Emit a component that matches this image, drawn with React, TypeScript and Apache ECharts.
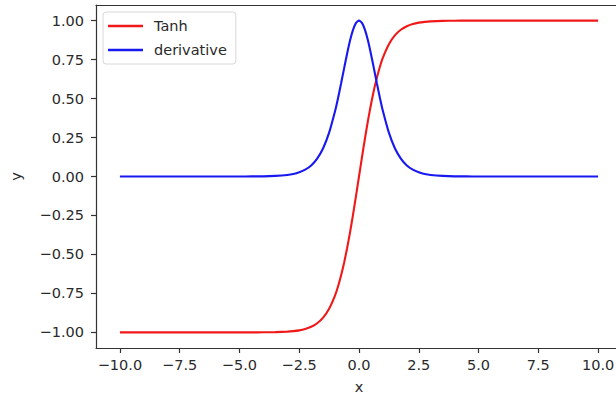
import React, { useEffect, useRef } from "react";
import * as echarts from "echarts";

const xs = [-10, -9, -8, -7, -6, -5, -4.5, -4, -3.5, -3, -2.75, -2.5, -2.25, -2, -1.75, -1.5, -1.25, -1, -0.875, -0.75, -0.625, -0.5, -0.375, -0.25, -0.125, 0,
  0.125, 0.25, 0.375, 0.5, 0.625, 0.75, 0.875, 1, 1.25, 1.5, 1.75, 2, 2.25, 2.5, 2.75, 3, 3.5, 4, 4.5, 5, 6, 7, 8, 9, 10];
const tanhValues = [-1, -1, -1, -1, -1, -1, -1, -0.999, -0.998, -0.995, -0.992, -0.987, -0.978, -0.964, -0.941, -0.905, -0.848, -0.762, -0.704, -0.635, -0.555, -0.462, -0.358, -0.245, -0.124, 0,
  0.124, 0.245, 0.358, 0.462, 0.555, 0.635, 0.704, 0.762, 0.848, 0.905, 0.941, 0.964, 0.978, 0.987, 0.992, 0.995, 0.998, 0.999, 1, 1, 1, 1, 1, 1, 1];
const derivValues = [0, 0, 0, 0, 0, 0, 0.0005, 0.001, 0.004, 0.01, 0.016, 0.027, 0.044, 0.071, 0.115, 0.181, 0.281, 0.42, 0.504, 0.597, 0.692, 0.786, 0.872, 0.94, 0.985, 1,
  0.985, 0.94, 0.872, 0.786, 0.692, 0.597, 0.504, 0.42, 0.281, 0.181, 0.115, 0.071, 0.044, 0.027, 0.016, 0.01, 0.004, 0.001, 0.0005, 0, 0, 0, 0, 0, 0];
const xTicks = [-10, -7.5, -5, -2.5, 0, 2.5, 5, 7.5, 10];
const yTicks = [-1, -0.75, -0.5, -0.25, 0, 0.25, 0.5, 0.75, 1];
const seriesNames = ["Tanh", "derivative"];

const FONT = "DejaVu Sans";
const FS = 14.5;
const TXT = "#2a2a2a";
const fmt = (v: number, d: number) => (v < 0 ? "\u2212" : "") + Math.abs(v).toFixed(d);

export default function App() {
  const ref = useRef<HTMLDivElement>(null);
  useEffect(() => {
    const chart = echarts.init(ref.current!, null, { renderer: "svg" });
    const axisCommon = {
      axisLine: { show: true, onZero: false, lineStyle: { color: "#333", width: 1.2 } },
      axisTick: { show: true, inside: false, length: 5, lineStyle: { color: "#333", width: 1.2 } },
      splitLine: { show: false },
      nameTextStyle: { fontFamily: FONT, fontSize: FS, color: TXT },
    };
    chart.setOption({
      animation: false,
      backgroundColor: "#fff",
      grid: {
        left: 96, top: 5, width: 526, height: 343, show: false,
        containLabel: false, outerBoundsMode: "none",
      },
      legend: {
        left: 103,
        top: 12,
        orient: "vertical",
        data: seriesNames.map((n) => ({ name: n, icon: "rect" })),
        itemWidth: 35,
        itemHeight: 2.5,
        itemGap: 8,
        padding: [6, 9, 6, 5],
        borderColor: "#d8d8d8",
        borderWidth: 1,
        borderRadius: 3,
        backgroundColor: "rgba(255,255,255,0.8)",
        textStyle: { fontFamily: FONT, fontSize: FS, color: TXT, lineHeight: 16, padding: [0, 0, 0, 6] },
      },
      xAxis: [
        {
          type: "value",
          min: -11,
          max: 11,
          name: "x",
          nameLocation: "middle",
          nameGap: 31,
          ...axisCommon,
          axisTick: { ...axisCommon.axisTick, customValues: xTicks },
          axisLabel: { customValues: xTicks, formatter: (v: number) => fmt(v, 1), fontFamily: FONT, fontSize: FS, color: TXT, margin: 9 },
        },
        {
          type: "value",
          position: "top",
          min: -11,
          max: 11,
          axisLine: { show: true, onZero: false, lineStyle: { color: "#333", width: 1.2 } },
          axisTick: { show: false },
          axisLabel: { show: false },
          splitLine: { show: false },
        },
      ],
      yAxis: {
        type: "value",
        min: -1.1,
        max: 1.1,
        name: "y",
        nameLocation: "middle",
        nameGap: 73,
        ...axisCommon,
        axisTick: { ...axisCommon.axisTick, customValues: yTicks },
        axisLabel: { customValues: yTicks, formatter: (v: number) => fmt(v, 2), fontFamily: FONT, fontSize: FS, color: TXT, margin: 12 },
      },
      series: [
        {
          name: seriesNames[0],
          type: "line",
          xAxisIndex: 0,
          data: xs.map((x, i) => [x, tanhValues[i]]),
          showSymbol: false,
          smooth: 0.2,
          lineStyle: { color: "#f01818", width: 2.1 },
          itemStyle: { color: "#f01818" },
        },
        {
          name: seriesNames[1],
          type: "line",
          xAxisIndex: 0,
          data: xs.map((x, i) => [x, derivValues[i]]),
          showSymbol: false,
          smooth: 0.2,
          lineStyle: { color: "#1818f0", width: 2.1 },
          itemStyle: { color: "#1818f0" },
        },
      ],
    });
    return () => chart.dispose();
  }, []);
  return <div ref={ref} style={{ position: "fixed", left: 0, top: 0, width: 616, height: 397 }} />;
}
